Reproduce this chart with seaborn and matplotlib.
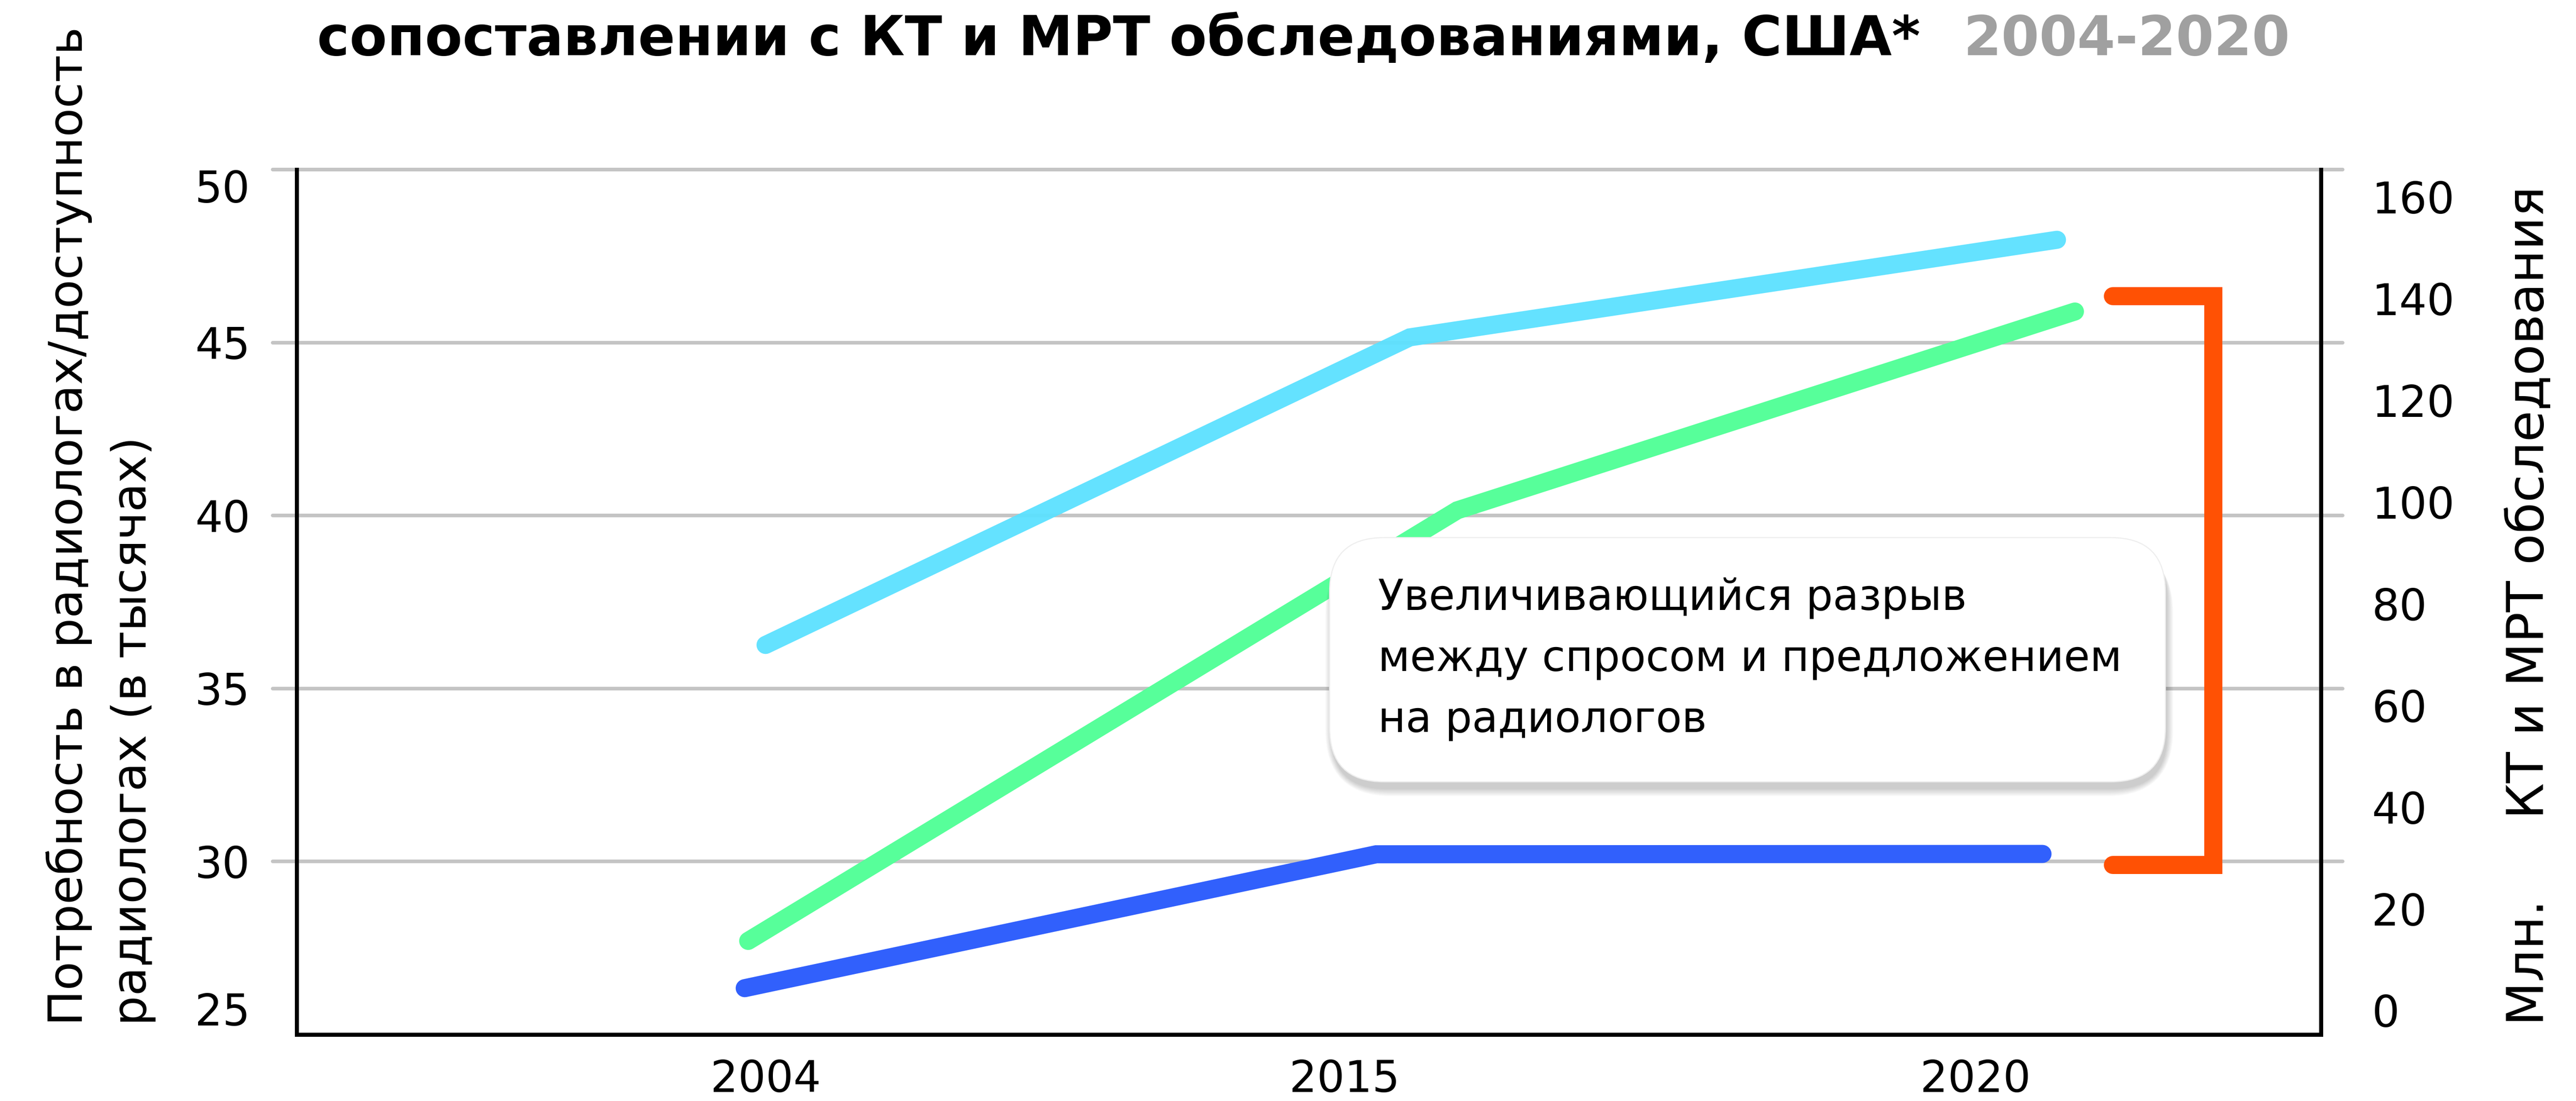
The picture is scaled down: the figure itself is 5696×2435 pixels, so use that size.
import matplotlib
matplotlib.use("Agg")
import matplotlib.pyplot as plt
import seaborn as sns
from matplotlib.patches import FancyBboxPatch
from matplotlib.transforms import IdentityTransform

# ---------------- data ----------------
years = ["2004", "2015", "2020"]
year_pos = [0.0, 1.0, 2.09]

demand_x = [0.0, 1.113, 2.231]          # cyan line (left axis)
demand = [36.26, 45.15, 47.97]

supply_x = [-0.036, 1.055, 2.206]       # blue line (left axis)
supply = [26.34, 30.21, 30.22]

exams_x = [-0.030, 1.195, 2.262]        # green line (right axis, млн.)
exams = [13.7, 98.4, 137.5]

left_ticks = [25, 30, 35, 40, 45, 50]
right_ticks = [0, 20, 40, 60, 80, 100, 120, 140, 160]

gap_x = [2.328, 2.501]                  # bracket
gap_y = [46.34, 29.90]

title_main = "сопоставлении с КТ и МРТ обследованиями, США*"
title_years = "2004-2020"
ylabel_left = "Потребность в радиологах/доступность\nрадиологах (в тысячах)"
ylabel_right = "Млн.     КТ и МРТ обследования"
note = "Увеличивающийся разрыв\nмежду спросом и предложением\nна радиологов"

# ---------------- style ----------------
W, H, DPI = 5697, 2435, 300
sns.set_style("white")
plt.rcParams["font.family"] = ["DejaVu Sans"]
plt.rcParams["text.color"] = "black"
plt.rcParams["xtick.color"] = "black"
plt.rcParams["ytick.color"] = "black"
plt.rcParams["axes.labelcolor"] = "black"

C_CYAN = "#5CE1FF"
C_GREEN = "#57FF9A"
C_BLUE = "#3160FC"
C_ORANGE = "#FF5104"
C_GRID = "#C4C4C4"
LW = 40 / DPI * 72
SPW = 9 / DPI * 72

fig = plt.figure(figsize=(W / DPI, H / DPI), dpi=DPI)
fig.patch.set_facecolor("white")
ax = fig.add_axes([656 / W, (H - 2288) / H, (5132 - 656) / W, (2288 - 375) / H])
ax2 = ax.twinx()

ax.set_xlim(-0.810, 2.687)
ax.set_ylim(25, 50)
ax2.set_ylim((2235 - 2288) / 11.244, (2235 - 375) / 11.244)

# gridlines extending beyond the spines
for v in left_ticks[1:]:
    ax.axhline(v, xmin=-0.0118, xmax=1.0107, color=C_GRID, lw=8 / DPI * 72,
               clip_on=False, zorder=0.5)

line_kw = dict(linewidth=LW, solid_capstyle="round", solid_joinstyle="miter")
sns.lineplot(x=demand_x, y=demand, ax=ax, color=C_CYAN, alpha=0.95, zorder=3, **line_kw)
sns.lineplot(x=supply_x, y=supply, ax=ax, color=C_BLUE, zorder=3, **line_kw)
sns.lineplot(x=exams_x, y=exams, ax=ax2, color=C_GREEN, zorder=3, **line_kw)

# bracket
ax.plot([gap_x[0], gap_x[1], gap_x[1], gap_x[0]],
        [gap_y[0], gap_y[0], gap_y[1], gap_y[1]],
        color=C_ORANGE, linewidth=LW, solid_capstyle="round",
        solid_joinstyle="miter", zorder=4, clip_on=False)

# spines
for a in (ax, ax2):
    a.spines["top"].set_visible(False)
    for s in a.spines.values():
        s.set_linewidth(SPW)
        s.set_color("black")
ax.spines["right"].set_visible(False)
ax2.spines["left"].set_visible(False)
ax2.spines["bottom"].set_visible(False)

# ticks
ax.set_xticks(year_pos)
ax.set_xticklabels(years, fontsize=23, color="black")
ax.tick_params(axis="x", length=0, pad=13, labelcolor="black")
ax.set_yticks(left_ticks)
ax.set_yticklabels([str(t) for t in left_ticks], fontsize=23, color="black")
ax.tick_params(axis="y", length=0, pad=54, labelcolor="black")
for lab in ax.get_yticklabels():
    lab.set_horizontalalignment("left")
ylabs = ax.get_yticklabels()
ylabs[0].set_verticalalignment("bottom")
ylabs[-1].set_verticalalignment("top")

ax2.set_yticks(right_ticks)
ax2.set_yticklabels([str(t) for t in right_ticks], fontsize=23, color="black")
ax2.tick_params(axis="y", length=0, pad=27, labelcolor="black")
ax.grid(False)
ax2.grid(False)
ax.set_xlabel("")
ax.set_ylabel("")

# axis titles (va='baseline' anchors the last line's baseline)
fig.text(283 / W, (H - 2268) / H, ylabel_left, rotation=90, rotation_mode="anchor",
         ha="left", va="baseline", fontsize=25, linespacing=1.51, multialignment="left",
         color="black")
fig.text(5624 / W, (H - 2268) / H, ylabel_right, rotation=90, rotation_mode="anchor",
         ha="left", va="baseline", fontsize=27, color="black")

# title
t1 = fig.text(701 / W, (H - 122) / H, title_main, ha="left", va="baseline",
              fontsize=29, fontweight="bold", color="black")
r = fig.canvas.get_renderer()
bb = t1.get_window_extent(renderer=r)
fig.text((bb.x1 + 95) / W, (H - 122) / H, title_years, ha="left", va="baseline",
         fontsize=29, fontweight="bold", color="#A0A0A0")

# annotation box with soft shadow
bx0, bx1 = 2940, 4788
by0, by1 = H - 1729, H - 1189
rad = 120
for i in range(10):
    sp = i * 3
    sh = FancyBboxPatch((bx0 + 4 - sp * 0.5, by0 - 16 - sp * 0.6), (bx1 - bx0) + sp, (by1 - by0) + sp * 0.4,
                        boxstyle=f"round,pad=0,rounding_size={rad + sp}",
                        transform=IdentityTransform(), facecolor="black",
                        edgecolor="none", alpha=0.02, zorder=5)
    fig.patches.append(sh)
box = FancyBboxPatch((bx0, by0), bx1 - bx0, by1 - by0,
                     boxstyle=f"round,pad=0,rounding_size={rad}",
                     transform=IdentityTransform(), facecolor="white",
                     edgecolor="#EEEEEE", linewidth=0.6, zorder=6)
fig.patches.append(box)
fig.text(3047 / W, (H - 1619) / H, note, ha="left", va="baseline", fontsize=22.5,
         linespacing=1.6, zorder=7, color="black")

fig.savefig("out.png", dpi=DPI, facecolor="white")
